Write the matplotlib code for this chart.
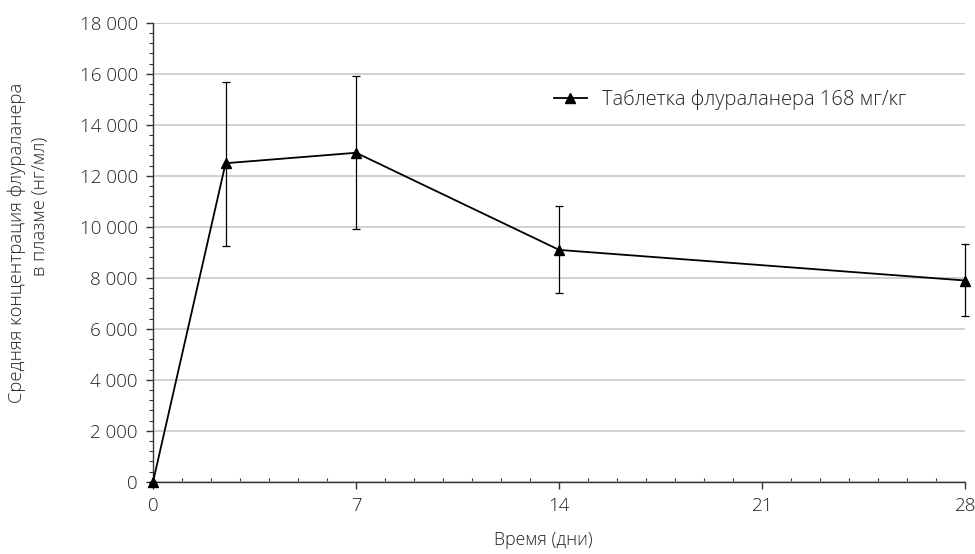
import matplotlib
matplotlib.use("Agg")
import matplotlib.pyplot as plt
from matplotlib.ticker import MultipleLocator, FuncFormatter
from matplotlib.lines import Line2D

days = [0, 2.5, 7, 14, 28]
conc = [0, 12490, 12900, 9090, 7890]
err_low = [0, 3240, 3000, 1690, 1400]
err_high = [0, 3200, 3010, 1720, 1420]
series_label = "Таблетка флураланера 168 мг/кг"
x_ticks = [0, 7, 14, 21, 28]
y_ticks = [0, 2000, 4000, 6000, 8000, 10000, 12000, 14000, 16000, 18000]
x_label = "Время (дни)"
y_label_lines = ["Средняя концентрация флураланера", "в плазме (нг/мл)"]

plt.rcParams['font.family'] = ['Open Sans', 'DejaVu Sans']
plt.rcParams['font.weight'] = 'light'

fig = plt.figure(figsize=(9.75, 5.54), dpi=100)
ax = fig.add_axes([0.157, 0.1305, 0.833, 0.8285])

cont = ax.errorbar(days, conc, yerr=[err_low, err_high], color='black', lw=1.3,
                   marker='^', markersize=7, ecolor='black', elinewidth=0.9,
                   capsize=3, capthick=0.9, zorder=3)
for art in cont.get_children():
    art.set_clip_on(False)

ax.set_xlim(0, 28)
ax.set_ylim(0, 18000)
ax.set_xticks(x_ticks)
ax.set_yticks(y_ticks)
ax.xaxis.set_minor_locator(MultipleLocator(1))
ax.yaxis.set_minor_locator(MultipleLocator(400))
ax.yaxis.set_major_formatter(FuncFormatter(lambda v, p: f"{int(v):,}".replace(",", " ")))

ax.grid(axis='y', which='major', color='#c4c4c4', lw=1.1, zorder=0)
ax.set_axisbelow(True)
for s in ['top', 'right']:
    ax.spines[s].set_visible(False)
for s in ['left', 'bottom']:
    ax.spines[s].set_color('#333333')
    ax.spines[s].set_linewidth(1.0)

ax.tick_params(axis='both', which='major', labelsize=13.5, colors='#333333',
               labelcolor='#222222', length=5, direction='out', width=1)
ax.tick_params(axis='y', which='minor', length=3, direction='out', width=0.8, colors='#333333')
ax.tick_params(axis='x', which='minor', length=3, direction='in', width=0.8, colors='#333333')
ax.tick_params(axis='y', which='major', pad=6)
ax.tick_params(axis='x', which='major', pad=6)

fig.text(543 / 975, 1 - 540 / 554, x_label, fontsize=12.8, color='#222222',
         ha='center', va='center')
fig.text(17 / 975, 1 - 243 / 554, y_label_lines[0], fontsize=13.2, color='#222222',
         ha='center', va='center', rotation=90)
fig.text(40 / 975, 1 - 206 / 554, y_label_lines[1], fontsize=13.2, color='#222222',
         ha='center', va='center', rotation=90)

handle = Line2D([], [], color='black', lw=1.3, marker='^', markersize=7)
ax.legend([handle], [series_label], loc='center left',
          bbox_to_anchor=((536 - 153) / 812, (481.7 - 100) / 459), frameon=False,
          fontsize=14.5, handlelength=1.6, handletextpad=0.75,
          labelcolor='#222222')

fig.savefig("out.png", dpi=100)
